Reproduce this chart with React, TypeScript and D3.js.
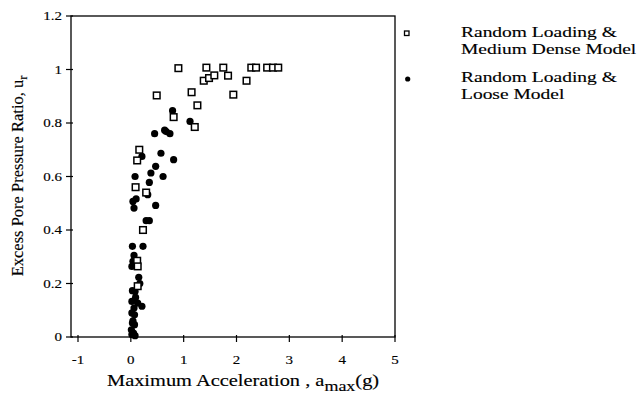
import React from "react";
import * as d3 from "d3";

const xTicks = [-1, 0, 1, 2, 3, 4, 5];
const yTicks = [0, 0.2, 0.4, 0.6, 0.8, 1, 1.2];
const yTickLabels = ["0", "0.2", "0.4", "0.6", "0.8", "1", "1.2"];

const denseX = [0.9, 0.49, 1.43, 1.38, 1.48, 1.58, 1.15, 1.26, 1.75, 1.84, 1.94, 2.19, 2.28, 2.37, 2.58, 2.69, 2.79, 0.81, 1.21, 0.16, 0.12, 0.09, 0.29, 0.23, 0.12, 0.13, 0.13];
const denseY = [1.005, 0.903, 1.007, 0.958, 0.968, 0.978, 0.915, 0.866, 1.007, 0.977, 0.906, 0.958, 1.007, 1.007, 1.007, 1.007, 1.007, 0.822, 0.785, 0.70, 0.66, 0.56, 0.54, 0.40, 0.285, 0.264, 0.19];

const looseX = [0.79, 1.12, 0.45, 0.64, 0.67, 0.74, 0.57, 0.81, 0.21, 0.47, 0.38, 0.61, 0.08, 0.35, 0.32, 0.04, 0.10, 0.06, 0.47, 0.29, 0.35, 0.03, 0.23, 0.06, 0.04, 0.02, 0.15, 0.03, 0.08, 0.09, 0.02, 0.13, 0.21, 0.06, 0.02, 0.07, 0.03, 0.07, 0.01, 0.05, 0.02, 0.08, 0.17, 0.04];
const looseY = [0.846, 0.806, 0.76, 0.773, 0.768, 0.76, 0.687, 0.663, 0.675, 0.638, 0.613, 0.60, 0.60, 0.578, 0.532, 0.507, 0.516, 0.482, 0.492, 0.435, 0.435, 0.339, 0.339, 0.305, 0.283, 0.264, 0.223, 0.173, 0.17, 0.148, 0.133, 0.127, 0.115, 0.108, 0.09, 0.083, 0.052, 0.046, 0.027, 0.015, 0.009, 0.005, 0.2, 0.06];

const legendLabels = [["Random Loading &", "Medium Dense Model"], ["Random Loading &", "Loose Model"]];

export default function App() {
  const W = 641, H = 394;
  const x = d3.scaleLinear().domain([-1, 5]).range([78, 395]);
  const y = d3.scaleLinear().domain([0, 1.2]).range([337, 16]);
  const left = 71, right = 395, top = 16, bottom = 337;
  const font = "'Liberation Serif', 'Times New Roman', serif";
  const sx = 1.2;
  const legendY = [37, 82];

  return (
    <svg width={W} height={H} style={{ position: "absolute", left: 0, top: 0, background: "#fff" }} fontFamily={font} fill="#000" stroke="#000" strokeWidth={0}>
      <rect x={0} y={0} width={W} height={H} fill="#fff" />
      {/* frame */}
      <rect x={left} y={top} width={right - left} height={bottom - top} fill="none" stroke="#000" strokeWidth={1.3} />
      {/* y ticks */}
      {yTicks.map((t, i) => (
        <g key={"y" + i}>
          <line x1={left - 5} x2={left + 2} y1={y(t)} y2={y(t)} stroke="#000" strokeWidth={1.2} />
          <text transform={`translate(62,${y(t) + 4}) scale(${sx},1)`} textAnchor="end" fontSize={12.5} strokeWidth={0.15}>{yTickLabels[i]}</text>
        </g>
      ))}
      {/* x ticks */}
      {xTicks.map((t, i) => (
        <g key={"x" + i}>
          <line x1={x(t)} x2={x(t)} y1={bottom - 2} y2={bottom + 5} stroke="#000" strokeWidth={1.2} />
          <text transform={`translate(${x(t)},364) scale(${sx},1)`} textAnchor="middle" fontSize={12.5} strokeWidth={0.15}>{t}</text>
        </g>
      ))}
      {/* axis titles */}
      <text transform={`translate(107,386) scale(${sx},1)`} fontSize={17} strokeWidth={0.15}>
        Maximum Acceleration , a
        <tspan fontSize={15} dy={5}>max</tspan>
        <tspan dy={-5}>(g)</tspan>
      </text>
      <text transform={`translate(23,176) rotate(-90)`} textAnchor="middle" fontSize={16.5} strokeWidth={0.15}>
        Excess Pore Pressure Ratio, u
        <tspan fontSize={12} dy={4}>r</tspan>
      </text>
      {/* data */}
      {looseX.map((v, i) => (
        <circle key={"l" + i} cx={x(v)} cy={y(looseY[i])} r={3.6} fill="#000" />
      ))}
      {denseX.map((v, i) => (
        <rect key={"d" + i} x={x(v) - 3.3} y={y(denseY[i]) - 3.3} width={6.6} height={6.6} fill="#fff" stroke="#000" strokeWidth={1.5} />
      ))}
      {/* legend */}
      <rect x={404.5} y={31} width={4.5} height={4.5} fill="#fff" stroke="#000" strokeWidth={1.3} />
      <circle cx={407.7} cy={79} r={2.6} fill="#000" />
      {legendLabels.map((lines, i) =>
        lines.map((ln, j) => (
          <text key={"lg" + i + "-" + j} transform={`translate(461,${legendY[i] + j * 16.5}) scale(1.3,1)`} fontSize={15} strokeWidth={0.15}>
            {ln}
          </text>
        ))
      )}
    </svg>
  );
}
